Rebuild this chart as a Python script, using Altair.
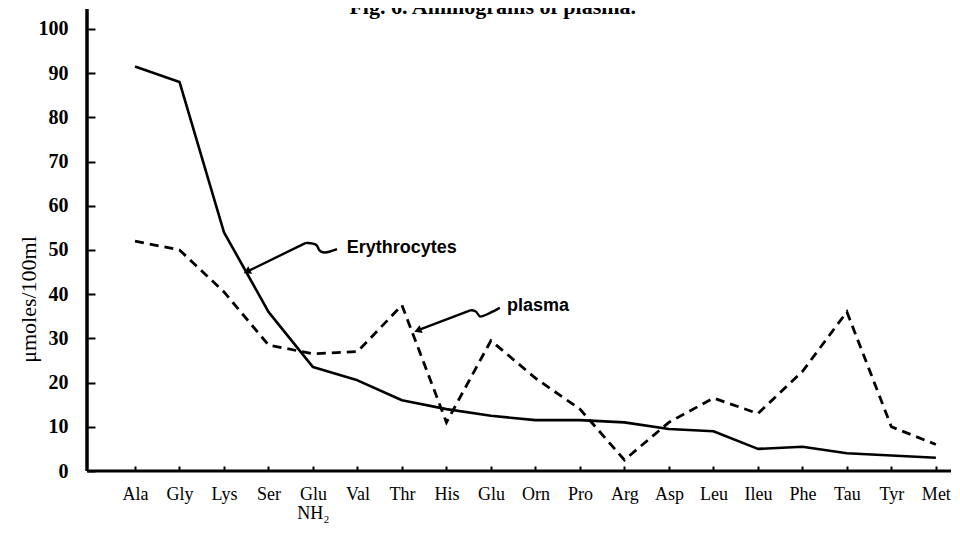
import json
import altair as alt
import pandas as pd

# ---------------- data ----------------
categories = ["Ala", "Gly", "Lys", "Ser", "Glu NH2", "Val", "Thr", "His", "Glu",
              "Orn", "Pro", "Arg", "Asp", "Leu", "Ileu", "Phe", "Tau", "Tyr", "Met"]
tick_labels = ["Ala", "Gly", "Lys", "Ser", ["Glu", "NH₂"], "Val", "Thr", "His", "Glu",
               "Orn", "Pro", "Arg", "Asp", "Leu", "Ileu", "Phe", "Tau", "Tyr", "Met"]
erythrocytes = [91.5, 88, 54, 36, 23.5, 20.5, 16, 14, 12.5, 11.5, 11.5, 11, 9.5, 9, 5, 5.5, 4, 3.5, 3]
plasma = [52, 50, 40.5, 28.5, 26.5, 27, 37.5, 11, 29.5, 21, 14, 2.5, 11, 16.5, 13, 22.5, 36, 10, 6]
y_ticks = [0, 10, 20, 30, 40, 50, 60, 70, 80, 90, 100]

title_text = "Fig. 6. Aminograms of plasma."
y_title = "μmoles/100ml"

# annotation labels and arrows (data coordinates)
ann_labels = ["Erythrocytes", "plasma"]
ann_x = [4.76, 8.36]
ann_y = [50.5, 37.3]

arrow_seg = ["e1"] * 5 + ["e2"] * 2 + ["p1"] * 5 + ["p2"] * 2
arrow_ord = [0, 1, 2, 3, 4, 0, 1, 0, 1, 2, 3, 4, 0, 1]
arrow_x = [4.54, 4.25, 4.11, 4.11, 3.84, 3.84, 2.54,
           8.20, 7.89, 7.73, 7.69, 7.55, 7.55, 6.38]
arrow_y = [50.2, 49.1, 50.0, 51.4, 51.6, 51.6, 45.2,
           36.9, 35.3, 34.6, 36.2, 36.4, 36.4, 31.9]
head_x = [2.54, 6.38]
head_y = [45.2, 31.9]
head_angle = [243, 249]

X_MIN, X_MAX = -1.079, 18.34
Y_MIN, Y_MAX = 0, 104.5

# ---------------- tables ----------------
df = pd.DataFrame({
    "idx": list(range(len(categories))) * 2,
    "amino": categories * 2,
    "series": ["Erythrocytes"] * len(categories) + ["plasma"] * len(categories),
    "value": erythrocytes + plasma,
})
axis_df = pd.DataFrame({"idx": [X_MIN], "x2": [X_MAX], "value": [Y_MIN], "y2": [Y_MAX]})
ann_df = pd.DataFrame({"label": ann_labels, "idx": ann_x, "value": ann_y})
arrow_df = pd.DataFrame({"seg": arrow_seg, "ord": arrow_ord, "idx": arrow_x, "value": arrow_y})
head_df = pd.DataFrame({"idx": head_x, "value": head_y, "angle": head_angle})
title_df = pd.DataFrame({"idx": [8.04], "label": [title_text]})

xscale = alt.Scale(domain=[X_MIN, X_MAX], nice=False, zero=False)
yscale = alt.Scale(domain=[Y_MIN, Y_MAX], nice=False, zero=False)

label_expr = json.dumps(tick_labels, ensure_ascii=False) + "[datum.value]"

x_axis = alt.Axis(
    values=list(range(len(categories))), labelExpr=label_expr, title=None,
    domain=False, grid=False, ticks=True, tickSize=5, tickWidth=2, tickColor="black",
    offset=-5, labelPadding=14, labelFont="Liberation Serif", labelFontSize=18,
    labelColor="black", labelLineHeight=19, labelOverlap=False, labelFlush=False,
)
y_axis = alt.Axis(
    values=y_ticks, title=y_title, domain=False, grid=False,
    tickSize=8, tickWidth=2, tickColor="black", offset=-8, labelPadding=19,
    labelFont="Liberation Serif", labelFontWeight="bold", labelFontSize=20,
    labelColor="black", titleFont="Liberation Serif", titleFontSize=22,
    titleFontWeight="normal", titleColor="black", titleX=-67, titleY=290,
    titleBaseline="middle",
)

X = alt.X("idx:Q", scale=xscale, axis=x_axis)
Y = alt.Y("value:Q", scale=yscale, axis=y_axis)

base = alt.Chart(df).encode(x=X, y=Y)
ery = base.transform_filter(alt.datum.series == "Erythrocytes").mark_line(
    color="black", strokeWidth=2.6, strokeJoin="round")
pla = base.transform_filter(alt.datum.series == "plasma").mark_line(
    color="black", strokeWidth=2.8, strokeDash=[9, 6])

y_line = alt.Chart(axis_df).mark_rule(color="black", strokeWidth=3.5).encode(
    x=X, y=Y, y2="y2:Q")
x_line = alt.Chart(axis_df).mark_rule(color="black", strokeWidth=3).encode(
    x=X, x2="x2:Q", y=Y)

ann = alt.Chart(ann_df).mark_text(
    align="left", baseline="middle", font="Liberation Sans", fontWeight="bold",
    fontSize=18, color="black").encode(x=X, y=Y, text="label:N")

arrows = alt.Chart(arrow_df).mark_line(
    color="black", strokeWidth=2.4, interpolate="basis").encode(
    x=X, y=Y, detail="seg:N", order="ord:Q")

heads = alt.Chart(head_df).mark_point(
    shape="triangle", filled=True, size=70, color="black", opacity=1).encode(
    x=X, y=Y, angle=alt.Angle("angle:Q", scale=None))

title = alt.Chart(title_df).mark_text(
    align="center", baseline="alphabetic", font="Liberation Serif",
    fontWeight="bold", fontSize=22, color="black").encode(
    x=X, y=alt.value(5), text="label:N")

chart = alt.layer(ery, pla, y_line, x_line, ann, arrows, heads, title).properties(
    width=864, height=462,
    autosize=alt.AutoSizeParams(type="none"),
    padding={"left": 79, "top": 1, "right": 1, "bottom": 53},
    background="white",
).configure_view(stroke=None)

chart.save("out.html", embed_options={"renderer": "svg", "actions": False})
